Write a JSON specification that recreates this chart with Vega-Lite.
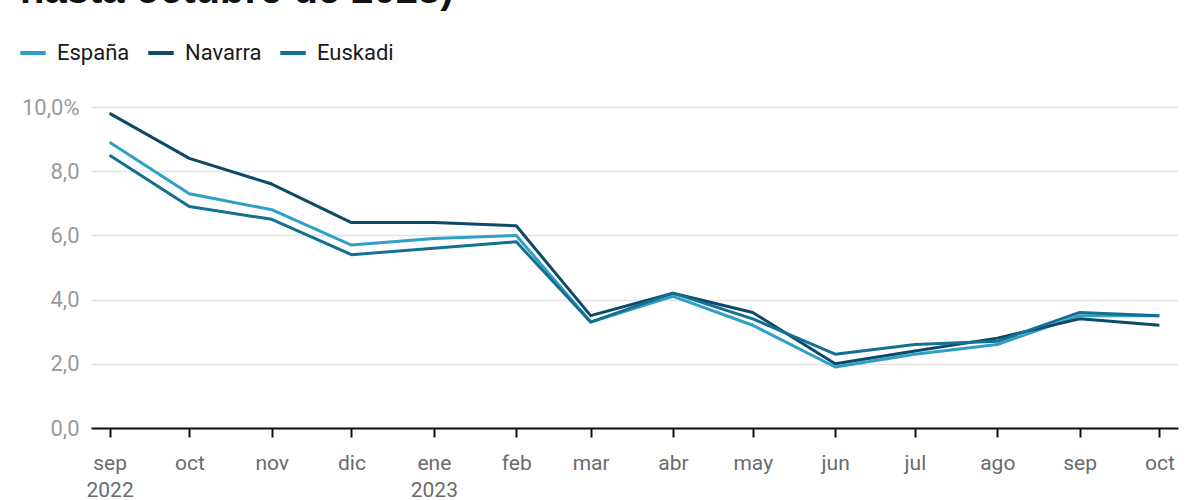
{
  "$schema": "https://vega.github.io/schema/vega-lite/v6.json",
  "width": 1087,
  "height": 321,
  "autosize": {"type": "none"},
  "padding": {"left": 91, "top": 107, "right": 22, "bottom": 72},
  "title": {
    "text": "hasta octubre de 2023)",
    "anchor": "start",
    "frame": "group",
    "font": "Liberation Sans",
    "fontSize": 40,
    "fontWeight": "bold",
    "color": "#111111",
    "dx": -71,
    "offset": 27
  },
  "data": {
    "values": [
      {"fecha": "2022-09-01", "serie": "España", "ipc": 8.9},
      {"fecha": "2022-10-01", "serie": "España", "ipc": 7.3},
      {"fecha": "2022-11-01", "serie": "España", "ipc": 6.8},
      {"fecha": "2022-12-01", "serie": "España", "ipc": 5.7},
      {"fecha": "2023-01-01", "serie": "España", "ipc": 5.9},
      {"fecha": "2023-02-01", "serie": "España", "ipc": 6.0},
      {"fecha": "2023-03-01", "serie": "España", "ipc": 3.3},
      {"fecha": "2023-04-01", "serie": "España", "ipc": 4.1},
      {"fecha": "2023-05-01", "serie": "España", "ipc": 3.2},
      {"fecha": "2023-06-01", "serie": "España", "ipc": 1.9},
      {"fecha": "2023-07-01", "serie": "España", "ipc": 2.3},
      {"fecha": "2023-08-01", "serie": "España", "ipc": 2.6},
      {"fecha": "2023-09-01", "serie": "España", "ipc": 3.5},
      {"fecha": "2023-10-01", "serie": "España", "ipc": 3.5},
      {"fecha": "2022-09-01", "serie": "Navarra", "ipc": 9.8},
      {"fecha": "2022-10-01", "serie": "Navarra", "ipc": 8.4},
      {"fecha": "2022-11-01", "serie": "Navarra", "ipc": 7.6},
      {"fecha": "2022-12-01", "serie": "Navarra", "ipc": 6.4},
      {"fecha": "2023-01-01", "serie": "Navarra", "ipc": 6.4},
      {"fecha": "2023-02-01", "serie": "Navarra", "ipc": 6.3},
      {"fecha": "2023-03-01", "serie": "Navarra", "ipc": 3.5},
      {"fecha": "2023-04-01", "serie": "Navarra", "ipc": 4.2},
      {"fecha": "2023-05-01", "serie": "Navarra", "ipc": 3.6},
      {"fecha": "2023-06-01", "serie": "Navarra", "ipc": 2.0},
      {"fecha": "2023-07-01", "serie": "Navarra", "ipc": 2.4},
      {"fecha": "2023-08-01", "serie": "Navarra", "ipc": 2.8},
      {"fecha": "2023-09-01", "serie": "Navarra", "ipc": 3.4},
      {"fecha": "2023-10-01", "serie": "Navarra", "ipc": 3.2},
      {"fecha": "2022-09-01", "serie": "Euskadi", "ipc": 8.5},
      {"fecha": "2022-10-01", "serie": "Euskadi", "ipc": 6.9},
      {"fecha": "2022-11-01", "serie": "Euskadi", "ipc": 6.5},
      {"fecha": "2022-12-01", "serie": "Euskadi", "ipc": 5.4},
      {"fecha": "2023-01-01", "serie": "Euskadi", "ipc": 5.6},
      {"fecha": "2023-02-01", "serie": "Euskadi", "ipc": 5.8},
      {"fecha": "2023-03-01", "serie": "Euskadi", "ipc": 3.3},
      {"fecha": "2023-04-01", "serie": "Euskadi", "ipc": 4.2},
      {"fecha": "2023-05-01", "serie": "Euskadi", "ipc": 3.4},
      {"fecha": "2023-06-01", "serie": "Euskadi", "ipc": 2.3},
      {"fecha": "2023-07-01", "serie": "Euskadi", "ipc": 2.6},
      {"fecha": "2023-08-01", "serie": "Euskadi", "ipc": 2.7},
      {"fecha": "2023-09-01", "serie": "Euskadi", "ipc": 3.6},
      {"fecha": "2023-10-01", "serie": "Euskadi", "ipc": 3.5}
    ]
  },
  "mark": {"type": "line", "strokeWidth": 3, "strokeJoin": "round"},
  "encoding": {
    "x": {
      "field": "fecha",
      "type": "temporal",
      "scale": {"type": "utc", "domain": ["2022-08-25", "2023-10-08"]},
      "axis": {
        "title": null,
        "grid": false,
        "values": ["2022-09-01", "2022-10-01", "2022-11-01", "2022-12-01", "2023-01-01", "2023-02-01", "2023-03-01", "2023-04-01", "2023-05-01", "2023-06-01", "2023-07-01", "2023-08-01", "2023-09-01", "2023-10-01"],
        "labelExpr": "(utcmonth(datum.value) == 0 || (utcmonth(datum.value) == 8 && utcyear(datum.value) == 2022)) ? [['ene','feb','mar','abr','may','jun','jul','ago','sep','oct','nov','dic'][utcmonth(datum.value)], '' + utcyear(datum.value)] : ['ene','feb','mar','abr','may','jun','jul','ago','sep','oct','nov','dic'][utcmonth(datum.value)]",
        "domainColor": "#111111",
        "domainWidth": 2,
        "tickColor": "#111111",
        "tickWidth": 2,
        "tickSize": 9,
        "labelFont": "Roboto",
        "labelFontSize": 21,
        "labelColor": "#6b6b6b",
        "labelPadding": 15,
        "labelLineHeight": 27,
        "labelFlush": false
      }
    },
    "y": {
      "field": "ipc",
      "type": "quantitative",
      "scale": {"domain": [0, 10]},
      "axis": {
        "title": null,
        "values": [0, 2, 4, 6, 8, 10],
        "labelExpr": "datum.value == 10 ? '10,0%' : replace(format(datum.value, '.1f'), '.', ',')",
        "domain": false,
        "ticks": false,
        "gridColor": "#e3e3e3",
        "gridWidth": 1.5,
        "labelFont": "Roboto",
        "labelFontSize": 22,
        "labelColor": "#9a9a9a",
        "labelPadding": 12
      }
    },
    "color": {
      "field": "serie",
      "type": "nominal",
      "sort": ["España", "Navarra", "Euskadi"],
      "scale": {"domain": ["España", "Navarra", "Euskadi"], "range": ["#2e9fc6", "#0d4a6a", "#15708f"]},
      "legend": {
        "title": null,
        "orient": "none",
        "direction": "horizontal",
        "legendX": -73,
        "legendY": -69,
        "symbolType": "stroke",
        "symbolSize": 650,
        "symbolStrokeWidth": 4,
        "labelFont": "Roboto",
        "labelFontSize": 22,
        "labelColor": "#1a1a1a",
        "labelOffset": 9,
        "columnPadding": 10
      }
    }
  },
  "config": {"view": {"stroke": null}}
}
